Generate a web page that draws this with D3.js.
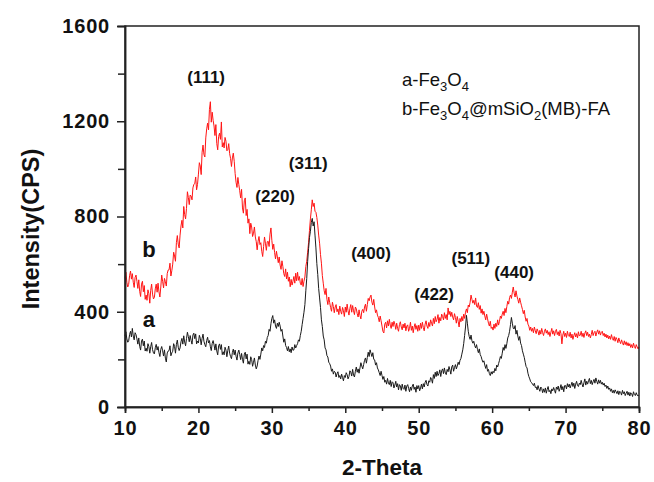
<!DOCTYPE html>
<html>
<head>
<meta charset="utf-8">
<script src="https://cdn.jsdelivr.net/npm/d3@7"></script>
<style>
  html, body { margin: 0; padding: 0; background: #fff; }
  svg { display: block; font-family: Arial, "Liberation Sans", sans-serif; }
</style>
</head>
<body>
<svg id="chart" width="654" height="482"></svg>
<script>
// XRD patterns, sampled every 0.125 degree from 10 to 80 (2-Theta); one row = 5 degrees
const thetaStart = 10, thetaStep = 0.125;

// a: bare Fe3O4
const seriesA = [
  298,316,286,272,278,304,318,294,330,298,282,312,304,286,264,290,255,239,277,285,257,277,235,247,234,266,254,226,253,271,241,227,223,249,263,239,254,228,212,242,
  254,236,214,240,205,189,227,235,237,257,215,227,234,266,254,226,263,281,251,237,248,274,288,264,299,273,257,287,314,296,274,300,280,264,302,310,287,307,265,277,
  269,301,289,261,288,306,276,262,253,279,293,269,279,253,237,267,279,261,239,265,235,219,257,265,242,262,220,232,219,251,239,211,238,256,226,212,203,229,243,219,
  239,213,197,227,239,221,199,225,200,184,222,230,202,222,180,192,179,211,199,171,188,206,176,160,172,196,214,200,222,248,236,258,250,276,268,292,300,326,318,350,
  372,384,352,366,340,330,352,338,356,340,318,326,298,272,286,258,250,236,254,232,244,228,252,238,240,262,248,258,266,282,276,300,318,346,372,398,430,488,540,612,
  665,712,738,775,792,760,778,722,668,602,556,498,458,418,366,338,298,282,248,240,216,210,188,182,172,150,160,138,150,146,126,140,148,124,132,118,138,124,110,132,
  124,144,136,118,128,152,146,130,158,134,126,150,168,146,160,142,164,186,172,160,178,196,206,184,208,230,212,240,226,212,228,200,198,176,186,164,156,144,132,150,
  132,116,128,104,112,96,120,100,94,112,86,106,102,80,92,108,84,98,72,94,88,70,96,78,74,92,66,88,94,78,64,84,70,88,96,74,84,62,90,76,
  90,68,80,96,76,98,84,104,112,94,88,110,104,124,116,100,136,120,146,128,150,132,140,156,128,152,160,140,164,142,136,158,148,170,156,138,168,176,150,166,
  178,160,172,188,178,196,204,222,240,266,300,336,385,352,318,296,284,302,278,268,276,258,248,262,242,228,244,220,212,198,188,194,176,162,178,150,158,140,132,148,
  138,150,144,162,152,176,168,182,196,212,204,226,250,238,262,246,266,290,300,318,346,376,352,330,328,342,306,322,298,280,296,268,258,236,222,208,188,170,164,142,
  128,118,106,102,96,90,100,82,84,72,90,76,66,84,78,60,76,62,80,58,74,86,64,70,56,76,68,82,70,58,84,74,88,66,78,94,72,86,64,90,
  90,76,98,84,96,80,92,104,86,100,78,96,108,90,86,100,94,112,96,84,102,118,92,108,96,110,120,98,112,94,106,116,100,122,108,96,114,100,112,96,
  104,92,100,86,92,78,88,74,80,66,76,60,70,58,72,64,56,68,52,66,62,50,70,56,64,48,58,66,50,62,46,60,56,44,64,52,48,60,50,46,
  50
];

// b: Fe3O4@mSiO2(MB)-FA
const seriesB = [
  540,566,524,504,515,551,571,537,560,524,502,544,554,528,498,534,486,464,516,528,484,510,452,470,448,492,476,436,490,516,474,454,460,496,516,482,520,484,462,504,
  554,528,500,540,526,508,560,575,576,604,550,572,600,650,634,612,690,720,684,668,722,760,784,752,842,808,790,834,904,880,850,890,886,870,920,935,938,966,912,935,
  978,1026,1012,976,1070,1100,1060,1050,1130,1168,1192,1164,1250,1282,1196,1238,1204,1180,1140,1186,1106,1080,1136,1150,1124,1197,1092,1110,1088,1132,1116,1076,1080,1106,1064,1044,1010,1046,1066,1032,
  980,944,922,964,934,908,878,914,836,814,866,878,804,830,772,790,728,772,756,716,730,756,714,694,660,696,716,682,690,654,632,674,714,688,658,694,696,674,726,752,
  700,662,684,648,622,654,630,606,630,596,578,614,590,560,548,580,538,566,528,546,505,536,512,528,548,520,562,530,566,532,548,520,512,540,506,528,546,590,612,650,
  690,742,790,828,870,842,856,822,818,796,764,722,688,640,604,552,520,488,472,498,452,430,462,438,418,402,440,422,396,420,430,400,412,388,424,402,390,418,404,380,
  420,398,432,404,386,414,430,398,426,404,388,420,412,392,378,408,384,370,402,410,396,420,432,402,430,456,446,462,470,440,428,452,420,396,408,386,376,358,382,362,
  340,318,311,348,356,332,362,340,368,344,330,356,338,360,348,326,352,330,318,346,358,336,324,348,332,352,320,340,345,318,330,356,322,340,312,336,350,326,342,318,
  344,322,352,330,356,334,320,348,362,340,330,355,338,366,352,340,372,350,380,358,368,388,352,376,362,390,380,366,396,372,388,366,416,388,402,380,398,378,366,392,
  376,352,380,360,336,372,358,380,362,390,372,398,412,396,428,420,440,470,452,436,448,430,458,424,418,438,410,426,394,412,388,402,382,366,390,370,352,340,360,330,
  336,323,348,330,352,338,366,344,360,382,372,390,402,384,414,396,422,444,432,460,470,456,482,504,478,462,488,466,452,436,458,440,425,410,392,406,378,360,372,348,
  340,322,336,318,330,312,336,320,308,328,318,302,322,306,330,312,300,318,328,310,322,304,316,296,314,330,306,320,300,318,326,304,316,298,322,308,265,302,318,296,
  310,292,318,300,296,314,290,306,284,300,312,294,308,290,316,298,302,318,296,310,292,310,320,300,314,296,306,290,304,322,300,312,318,298,314,324,306,320,302,314,
  318,300,310,294,306,290,302,286,298,284,304,288,280,296,276,292,284,270,290,276,266,282,270,260,278,262,274,258,270,256,266,250,262,248,268,254,246,262,252,244,
  252
];

// Axis ticks
const xMajorTicks = [10, 20, 30, 40, 50, 60, 70, 80];
const xMinorTicks = [15, 25, 35, 45, 55, 65, 75];
const yMajorTicks = [0, 400, 800, 1200, 1600];
const yMinorTicks = [200, 600, 1000, 1400];

// Reflection labels (hkl) with their 2-Theta position and label height
const peakLabels = ["(111)", "(220)", "(311)", "(400)", "(422)", "(511)", "(440)"];
const peakTheta  = [21.05, 30.45, 34.95, 43.5, 52.1, 57.1, 63.0];
const peakLevel  = [1360, 860, 1000, 620, 450, 600, 540];

const margin = { left: 125, right: 15, top: 26, bottom: 75 };
const W = 654, H = 482;
const svg = d3.select("#chart");

const x = d3.scaleLinear().domain([10, 80]).range([margin.left, W - margin.right]);
const y = d3.scaleLinear().domain([0, 1600]).range([H - margin.bottom, margin.top]);

const theta = d3.range(seriesA.length).map(i => thetaStart + i * thetaStep);

const line = d3.line()
  .x((d, i) => x(theta[i]))
  .y(d => y(d));

// Curves
svg.append("path").datum(seriesB)
  .attr("d", line).attr("fill", "none")
  .attr("stroke", "#ff1414").attr("stroke-width", 1).attr("stroke-linejoin", "round");
svg.append("path").datum(seriesA)
  .attr("d", line).attr("fill", "none")
  .attr("stroke", "#1a1a1a").attr("stroke-width", 1).attr("stroke-linejoin", "round");

// Frame
const axisColor = "#222";
svg.append("rect")
  .attr("x", x(10)).attr("y", y(1600))
  .attr("width", x(80) - x(10)).attr("height", y(0) - y(1600))
  .attr("fill", "none").attr("stroke", axisColor).attr("stroke-width", 1.5);

// Bottom axis
svg.append("g").attr("transform", `translate(0,${y(0)})`)
  .call(d3.axisBottom(x).tickValues(xMajorTicks).tickSize(6).tickPadding(8).tickFormat(d3.format("d")));
svg.append("g").attr("transform", `translate(0,${y(0)})`)
  .call(d3.axisBottom(x).tickValues(xMinorTicks).tickSize(4).tickFormat(""));

// Left axis
svg.append("g").attr("transform", `translate(${x(10)},0)`)
  .call(d3.axisLeft(y).tickValues(yMajorTicks).tickSize(8).tickPadding(7).tickFormat(d3.format("d")));
svg.append("g").attr("transform", `translate(${x(10)},0)`)
  .call(d3.axisLeft(y).tickValues(yMinorTicks).tickSize(7).tickFormat(""));

svg.selectAll(".domain").attr("stroke", axisColor).attr("stroke-width", 1.5);
svg.selectAll(".tick line").attr("stroke", axisColor).attr("stroke-width", 1.5);
svg.selectAll(".tick text")
  .attr("fill", "#111").style("font-size", "20px").style("font-weight", "bold")
  .style("letter-spacing", "0.8px").style("font-family", "Arial, 'Liberation Sans', sans-serif");

// Axis titles
svg.append("text")
  .attr("x", x(45)).attr("y", 475).attr("text-anchor", "middle")
  .style("font-size", "22.5px").style("font-weight", "bold").attr("fill", "#111")
  .text("2-Theta");
svg.append("text")
  .attr("transform", `translate(39,${(145 + 313) / 2}) rotate(-90)`)
  .attr("text-anchor", "middle")
  .style("font-size", "23.5px").style("font-weight", "bold").attr("fill", "#111")
  .text("Intensity(CPS)");

// Reflection labels
svg.selectAll(".hkl").data(peakLabels).enter().append("text")
  .attr("class", "hkl")
  .attr("x", (d, i) => x(peakTheta[i]))
  .attr("y", (d, i) => y(peakLevel[i]))
  .attr("text-anchor", "middle")
  .style("font-size", "17px").style("font-weight", "bold").attr("fill", "#111")
  .text(d => d);

// Curve tags
const curveTags = ["a", "b"];
const curveTagLevel = [335, 630];
svg.selectAll(".tag").data(curveTags).enter().append("text")
  .attr("class", "tag")
  .attr("x", x(13.25)).attr("y", (d, i) => y(curveTagLevel[i]))
  .attr("text-anchor", "middle")
  .style("font-size", "22px").style("font-weight", "bold").attr("fill", "#111")
  .text(d => d);

// Legend with chemical subscripts
function formula(sel, parts) {
  let lowered = false;
  parts.forEach(p => {
    const t = sel.append("tspan").text(p.t);
    if (p.sub) {
      t.style("font-size", "13px");
      if (!lowered) t.attr("dy", 5);
      lowered = true;
    } else if (lowered) {
      t.attr("dy", -5);
      lowered = false;
    }
  });
}
const legA = svg.append("text").attr("x", 402).attr("y", 86)
  .style("font-size", "18.5px").attr("fill", "#111");
formula(legA, [{t: "a-Fe"}, {t: "3", sub: true}, {t: "O"}, {t: "4", sub: true}]);
const legB = svg.append("text").attr("x", 402).attr("y", 115)
  .style("font-size", "18.5px").attr("fill", "#111");
formula(legB, [{t: "b-Fe"}, {t: "3", sub: true}, {t: "O"}, {t: "4", sub: true},
  {t: "@mSiO"}, {t: "2", sub: true}, {t: "(MB)-FA"}]);
</script>
</body>
</html>
